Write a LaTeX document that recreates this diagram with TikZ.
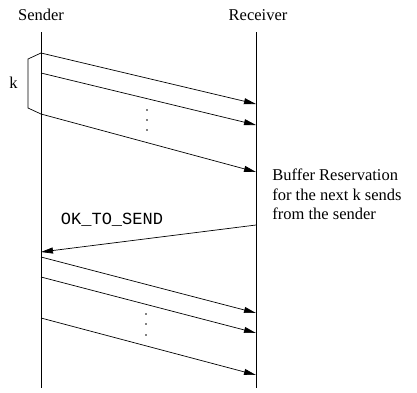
\documentclass[tikz,border=0pt]{standalone}
\usepackage{fontspec}
\setmainfont{Liberation Serif}
\setmonofont{Liberation Mono}
\usetikzlibrary{arrows.meta}

\begin{document}
\begin{tikzpicture}[x=1pt,y=-1pt,line width=0.7pt,
    msg/.style={-{Triangle[length=12pt,width=6pt]}},
    lbl/.style={font=\fontsize{16.5}{19.5}\selectfont, inner sep=0pt}]

    \useasboundingbox (0,0) rectangle (417,392);

    % the two time lines
    \node[lbl] (sender) at (41,15) {Sender};
    \node[lbl] (receiver) at (258,15) {Receiver};
    \coordinate (S0) at (41,32);
    \coordinate (S1) at (41,388);
    \coordinate (R0) at (256,32);
    \coordinate (R1) at (256,388);
    \draw (S0) -- (S1);
    \draw (R0) -- (R1);

    % first k sends
    \coordinate (a1) at (41,53);   \coordinate (b1) at (256,104);
    \coordinate (a2) at (41,73);   \coordinate (b2) at (256,125);
    \coordinate (a3) at (41,114);  \coordinate (b3) at (256,172);
    \draw[msg] (a1) -- (b1);
    \draw[msg] (a2) -- (b2);
    \draw[msg] (a3) -- (b3);
    \foreach \y in {110,120,130}
        \fill (147,\y) circle (0.9);

    % bracket for k
    \draw (a1) -- (28,59) -- (28,108) -- (a3);
    \node[lbl] (k) at (13.5,83) {k};

    % reservation note
    \node[lbl, anchor=north west, align=left] (note) at (272,169)
        {Buffer Reservation\\for the next k sends\\from the sender};

    % credit back to the sender
    \coordinate (c0) at (256,225);
    \coordinate (c1) at (41,252);
    \draw[msg] (c0) -- (c1);
    \node[lbl, font=\ttfamily\fontsize{17}{20}\selectfont] (ok) at (112,220) {OK\_TO\_SEND};

    % next k sends
    \coordinate (d1) at (41,257);  \coordinate (e1) at (256,313);
    \coordinate (d2) at (41,277);  \coordinate (e2) at (256,333);
    \coordinate (d3) at (41,318);  \coordinate (e3) at (256,375);
    \draw[msg] (d1) -- (e1);
    \draw[msg] (d2) -- (e2);
    \draw[msg] (d3) -- (e3);
    \foreach \y in {314,324,335}
        \fill (146,\y) circle (0.9);

\end{tikzpicture}
\end{document}
